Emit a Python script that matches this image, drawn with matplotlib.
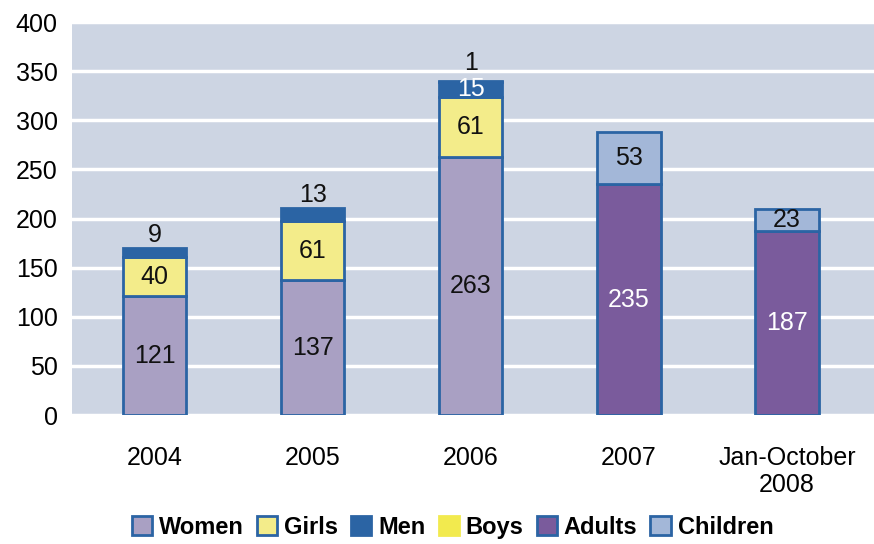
import matplotlib
matplotlib.use("Agg")
import matplotlib.pyplot as plt
from matplotlib.patches import Patch
import numpy as np

years = ["2004", "2005", "2006", "2007", "Jan-October\n2008"]
women = [121, 137, 263, 0, 0]
girls = [40, 61, 61, 0, 0]
men = [9, 13, 15, 0, 0]
boys = [0, 0, 1, 0, 0]
adults = [0, 0, 0, 235, 187]
children = [0, 0, 0, 53, 23]

series = [
    ("Women", women, "#A9A0C3"),
    ("Girls", girls, "#F3EC8A"),
    ("Men", men, "#2B64A4"),
    ("Boys", boys, "#F2EA4E"),
    ("Adults", adults, "#7A5B9C"),
    ("Children", children, "#A3B7D8"),
]
edge = "#2B64A4"

plt.rcParams['font.family'] = ['Liberation Sans', 'DejaVu Sans']
FS = 18

fig = plt.figure(figsize=(8.74, 5.44), dpi=100)
ax = fig.add_axes([0.082, 0.237, 0.918, 0.7224])
ax.set_facecolor("#CDD5E3")

x = np.arange(len(years))
w = 0.4
bottom = np.zeros(len(years))
for name, vals, col in series:
    vals = np.array(vals)
    mask = vals > 0
    ax.bar(x[mask], vals[mask], w, bottom=bottom[mask], color=col,
           edgecolor=edge, linewidth=2, zorder=3)
    bottom = bottom + vals

# value labels
def label(i, y, txt, color="#111111"):
    ax.text(i, y, txt, ha="center", va="center", fontsize=FS, color=color, zorder=5)

b = np.zeros(len(years))
for name, vals, col in series:
    for i, v in enumerate(vals):
        if v == 0:
            continue
        mid = b[i] + v / 2
        if name == "Men" and i < 2:
            label(i, b[i] + v + 13, str(v))
        elif name == "Boys":
            label(i, b[i] + v + 18, str(v))
        elif name == "Adults" or (name == "Men" and i == 2):
            label(i, mid, str(v), color="white")
        else:
            label(i, mid, str(v))
    b = b + np.array(vals)

ax.set_ylim(0, 400)
ax.set_xlim(-0.525, 4.55)
ax.set_yticks(range(0, 401, 50))
ax.yaxis.grid(True, color="white", linewidth=2.5, zorder=0)
ax.set_axisbelow(True)
ax.set_xticks(x)
ax.set_xticklabels(years)
ax.tick_params(axis="both", length=0, labelsize=FS)
ax.tick_params(axis="y", pad=10)
ax.tick_params(axis="x", pad=22)
for s in ax.spines.values():
    s.set_visible(False)

handles = [Patch(facecolor=col, edgecolor=(col if name == "Boys" else edge), linewidth=2, label=name)
           for name, vals, col in series]
fig.legend(handles=handles, loc="lower center", ncol=6, frameon=False,
           bbox_to_anchor=(0.518, -0.03), handlelength=0.85, handleheight=0.85,
           handletextpad=0.3, columnspacing=0.55,
           prop={"weight": "bold", "size": 17})

fig.savefig("out.png", dpi=100)
